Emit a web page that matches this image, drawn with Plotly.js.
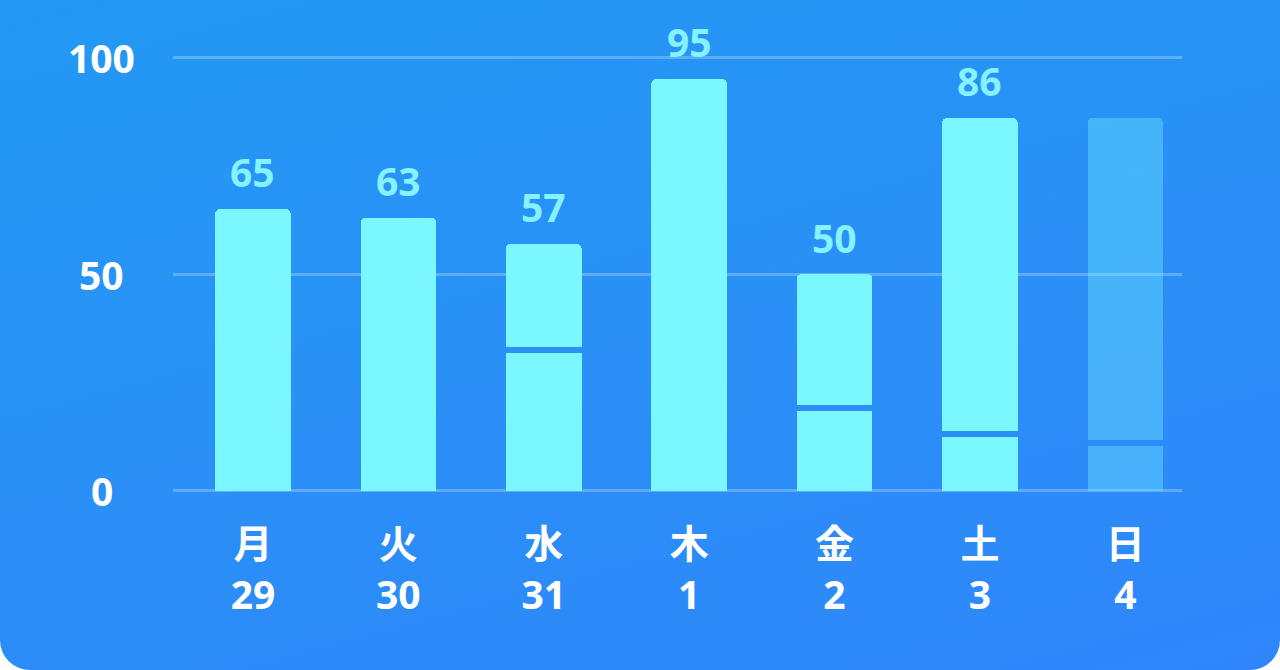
<!DOCTYPE html>
<html>
<head>
<meta charset="utf-8">
<script src="https://cdn.plot.ly/plotly-3.0.1.min.js"></script>
<style>
  html, body { margin: 0; padding: 0; background: #ffffff; }
  #card {
    width: 1280px; height: 670px; overflow: hidden;
    border-radius: 0 0 30px 30px;
    background: linear-gradient(165deg, #2299f4 0%, #2a90f6 50%, #2f86fb 100%);
  }
  #chart { width: 1280px; height: 670px; }
</style>
</head>
<body>
<div id="card"><div id="chart"></div></div>
<script>
// ---- data ----
const days     = ['月', '火', '水', '木', '金', '土', '日'];
const dates    = ['29', '30', '31', '1', '2', '3', '4'];
const totals   = [65, 63, 57, 95, 50, 86, 86];
const dividers = [null, null, 32.5, null, 19.1, 13.2, 11.1];   // position of the split line
const valueLabels = ['65', '63', '57', '95', '50', '86', ''];
const yTicks   = [0, 50, 100];
const yTickText = ['0', '50', '100'];

// ---- styles ----
const GAP = 1.4;
const mainColor = '#7bf7ff';
const fadedColor = 'rgba(122,248,255,0.35)';
const colors = days.map((d, i) => i === days.length - 1 ? fadedColor : mainColor);
const FONT = '"Open Sans", "Noto Sans CJK JP", sans-serif';

// stacked segments: lower | transparent gap | upper
const lowerY = totals.map((t, i) => dividers[i] === null ? t : dividers[i] - GAP / 2);
const gapY   = totals.map((t, i) => dividers[i] === null ? 0 : GAP);
const upperY = totals.map((t, i) => dividers[i] === null ? 0 : t - dividers[i] - GAP / 2);

const common = { type: 'bar', x: days, width: 0.52, hoverinfo: 'skip', showlegend: false };
const traces = [
  Object.assign({}, common, { y: lowerY, marker: { color: colors, line: { width: 0 } } }),
  Object.assign({}, common, { y: gapY, marker: { color: 'rgba(0,0,0,0)', line: { width: 0 } } }),
  Object.assign({}, common, { y: upperY, marker: { color: colors, line: { width: 0 } } })
];

const annotations = [];
days.forEach((d, i) => {
  if (valueLabels[i]) {
    annotations.push({
      x: d, y: totals[i], xref: 'x', yref: 'y',
      text: valueLabels[i], showarrow: false,
      xanchor: 'center', yanchor: 'middle', yshift: 37,
      font: { family: FONT, size: 39, color: '#86f1ff', weight: 700 }
    });
  }
});
yTicks.forEach((v, i) => {
  annotations.push({
    x: -0.0704, y: v, xref: 'paper', yref: 'y',
    text: yTickText[i], showarrow: false,
    xanchor: 'center', yanchor: 'middle', yshift: 0,
    font: { family: FONT, size: 39, color: '#ffffff', weight: 700 }
  });
});

const layout = {
  width: 1280, height: 670,
  margin: { l: 173, r: 98, t: 44, b: 166 },
  paper_bgcolor: 'rgba(0,0,0,0)',
  plot_bgcolor: 'rgba(0,0,0,0)',
  barmode: 'stack',
  barcornerradius: 5,
  showlegend: false,
  xaxis: {
    type: 'category',
    range: [-0.55, 6.39],
    tickvals: days,
    ticktext: days.map((d, i) => d + '<br>' + dates[i]),
    tickfont: { family: FONT, size: 39, color: '#ffffff', weight: 700 },
    ticks: '', showgrid: false, zeroline: false, showline: false,
    ticklabelstandoff: 14,
    fixedrange: true
  },
  yaxis: {
    range: [-3, 103],
    tickvals: yTicks,
    showticklabels: false,
    showgrid: true, gridcolor: 'rgba(255,255,255,0.25)', gridwidth: 3,
    zeroline: false, showline: false, ticks: '',
    fixedrange: true
  },
  annotations: annotations
};

Plotly.newPlot('chart', traces, layout, { displayModeBar: false, staticPlot: true });
</script>
</body>
</html>
